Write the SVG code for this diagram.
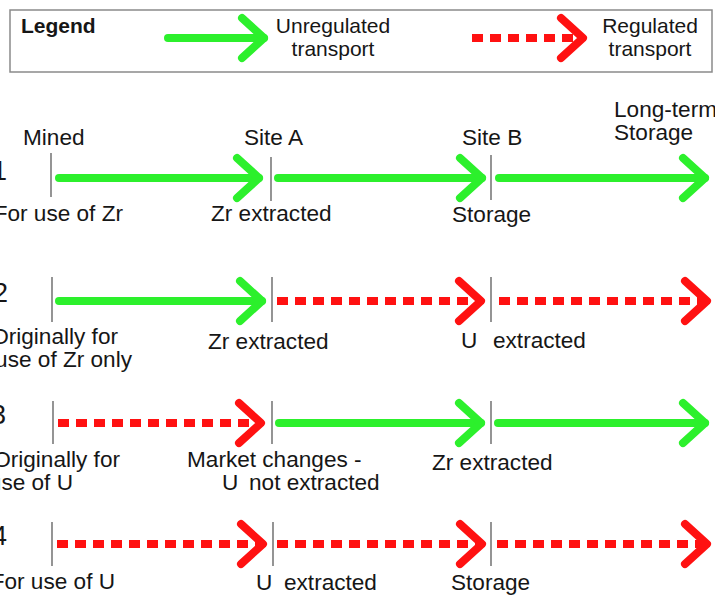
<svg xmlns="http://www.w3.org/2000/svg" width="715" height="598" viewBox="0 0 715 598">
  <style>
    .t { font-family: "Liberation Sans", Arial, sans-serif; font-size: 22.6px; fill: #161616; }
    .lg { font-family: "Liberation Sans", Arial, sans-serif; font-size: 21px; fill: #161616; }
    .num { font-family: "Liberation Sans", Arial, sans-serif; font-size: 27px; fill: #161616; }
    .tick { stroke: #7a7a7a; stroke-width: 1.6; }
    .g { stroke: #2cf02c; stroke-width: 8; stroke-linecap: round; fill: none; }
    .r { stroke: #ff1111; stroke-width: 8; stroke-dasharray: 11 7; fill: none; }
  </style>
  <defs>
    <marker id="headG" markerUnits="userSpaceOnUse" viewBox="-30 -26 36 52" markerWidth="36" markerHeight="52" refX="0" refY="0" orient="auto" overflow="visible">
      <path d="M-22,-20 L0,0 L-22,20" fill="none" stroke="#2cf02c" stroke-width="8" stroke-linecap="round" stroke-linejoin="round"/>
    </marker>
    <marker id="headR" markerUnits="userSpaceOnUse" viewBox="-30 -26 36 52" markerWidth="36" markerHeight="52" refX="0" refY="0" orient="auto" overflow="visible">
      <path d="M-22,-20 L0,0 L-22,20" fill="none" stroke="#ff1111" stroke-width="8" stroke-linecap="round" stroke-linejoin="round"/>
    </marker>
  </defs>

  <rect width="715" height="598" fill="#ffffff"/>

  <!-- legend -->
  <g id="legend">
    <rect x="10" y="10" width="702" height="62" fill="none" stroke="#8a8a8a" stroke-width="1.5"/>
    <text class="lg" x="21" y="33" font-weight="bold">Legend</text>
    <line class="g" x1="168" y1="38" x2="264" y2="38" marker-end="url(#headG)"/>
    <text class="lg" x="333" y="33" text-anchor="middle">Unregulated</text>
    <text class="lg" x="333" y="56" text-anchor="middle">transport</text>
    <line class="r" x1="472" y1="38" x2="583" y2="38" marker-end="url(#headR)"/>
    <text class="lg" x="650" y="33" text-anchor="middle">Regulated</text>
    <text class="lg" x="650" y="56" text-anchor="middle">transport</text>
  </g>

  <!-- route numbers -->
  <g id="numbers">
    <text class="num" x="-8" y="180">1</text>
    <text class="num" x="-7" y="302">2</text>
    <text class="num" x="-9" y="424">3</text>
    <text class="num" x="-8" y="545">4</text>
  </g>

  <!-- route 1 -->
  <g id="r1-mined">
    <line class="tick" x1="51" y1="153" x2="51" y2="197"/>
    <text class="t" x="23" y="145">Mined</text>
    <text class="t" x="123" y="221" text-anchor="end">For use of Zr</text>
  </g>
  <g id="r1-siteA">
    <line class="tick" x1="271" y1="157" x2="271" y2="201"/>
    <text class="t" x="244" y="145">Site A</text>
    <text class="t" x="211" y="221">Zr extracted</text>
  </g>
  <g id="r1-siteB">
    <line class="tick" x1="491" y1="155" x2="491" y2="200"/>
    <text class="t" x="462" y="145">Site B</text>
    <text class="t" x="452" y="222">Storage</text>
  </g>
  <g id="r1-longterm">
    <text class="t" x="614" y="117">Long-term</text>
    <text class="t" x="614" y="140">Storage</text>
  </g>

  <!-- route 2 -->
  <g id="r2-start">
    <line class="tick" x1="52" y1="277" x2="52" y2="322"/>
    <text class="t" x="118" y="344" text-anchor="end">Originally for</text>
    <text class="t" x="132" y="367" text-anchor="end">use of Zr only</text>
  </g>
  <g id="r2-siteA">
    <line class="tick" x1="272" y1="277" x2="272" y2="322"/>
    <text class="t" x="208" y="349">Zr extracted</text>
  </g>
  <g id="r2-siteB">
    <line class="tick" x1="491" y1="277" x2="491" y2="322"/>
    <text class="t" y="348"><tspan x="461">U</tspan><tspan x="493">extracted</tspan></text>
  </g>

  <!-- route 3 -->
  <g id="r3-start">
    <line class="tick" x1="53" y1="401" x2="53" y2="444"/>
    <text class="t" x="120" y="467" text-anchor="end">Originally for</text>
    <text class="t" x="73" y="490" text-anchor="end">use of U</text>
  </g>
  <g id="r3-siteA">
    <line class="tick" x1="272" y1="401" x2="272" y2="444"/>
    <text class="t" x="187" y="467">Market changes -</text>
    <text class="t" y="490"><tspan x="222">U</tspan><tspan x="249">not extracted</tspan></text>
  </g>
  <g id="r3-siteB">
    <line class="tick" x1="491" y1="401" x2="491" y2="444"/>
    <text class="t" x="432" y="470">Zr extracted</text>
  </g>

  <!-- route 4 -->
  <g id="r4-start">
    <line class="tick" x1="52" y1="522" x2="52" y2="566"/>
    <text class="t" x="115" y="589" text-anchor="end">For use of U</text>
  </g>
  <g id="r4-siteA">
    <line class="tick" x1="273" y1="522" x2="273" y2="566"/>
    <text class="t" y="590"><tspan x="256">U</tspan><tspan x="284">extracted</tspan></text>
  </g>
  <g id="r4-siteB">
    <line class="tick" x1="491" y1="522" x2="491" y2="566"/>
    <text class="t" x="451" y="590">Storage</text>
  </g>

  <!-- transport legs -->
  <g id="connectors">
    <line class="g" x1="59" y1="178" x2="259" y2="178" marker-end="url(#headG)"/>
    <line class="g" x1="278" y1="178" x2="482" y2="178" marker-end="url(#headG)"/>
    <line class="g" x1="499" y1="178" x2="705" y2="178" marker-end="url(#headG)"/>

    <line class="g" x1="59" y1="301" x2="262" y2="301" marker-end="url(#headG)"/>
    <line class="r" x1="277" y1="301" x2="481" y2="301" marker-end="url(#headR)"/>
    <line class="r" x1="499" y1="301" x2="707" y2="301" marker-end="url(#headR)"/>

    <line class="r" x1="58" y1="423" x2="261" y2="423" marker-end="url(#headR)"/>
    <line class="g" x1="279" y1="423" x2="481" y2="423" marker-end="url(#headG)"/>
    <line class="g" x1="498" y1="423" x2="705" y2="423" marker-end="url(#headG)"/>

    <line class="r" x1="57" y1="544" x2="263" y2="544" marker-end="url(#headR)"/>
    <line class="r" x1="277" y1="544" x2="482" y2="544" marker-end="url(#headR)"/>
    <line class="r" x1="497" y1="544" x2="707" y2="544" marker-end="url(#headR)"/>
  </g>
</svg>
